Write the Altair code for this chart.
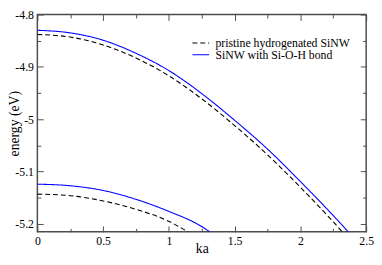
import altair as alt
import pandas as pd

# ---------------- data ----------------
SERIES = ["pristine hydrogenated SiNW", "SiNW with Si-O-H bond"]
COLORS = ["#000000", "#0000ff"]
DASHES = [[5, 3], [1, 0]]

# upper band
ka_pristine_upper = [0, 0.25, 0.5, 0.75, 1.0, 1.25, 1.5, 1.75, 2.0, 2.25, 2.35]
e_pristine_upper = [-4.838, -4.843, -4.858, -4.883, -4.917, -4.961, -5.012, -5.068, -5.130, -5.196, -5.224]
ka_sioh_upper = [0, 0.25, 0.5, 0.75, 1.0, 1.25, 1.5, 1.75, 2.0, 2.25, 2.4]
e_sioh_upper = [-4.830, -4.835, -4.849, -4.874, -4.907, -4.951, -5.002, -5.057, -5.119, -5.184, -5.225]

# lower band
ka_pristine_lower = [0, 0.25, 0.5, 0.75, 1.0, 1.15, 1.2]
e_pristine_lower = [-5.143, -5.146, -5.156, -5.172, -5.195, -5.216, -5.224]
ka_sioh_lower = [0, 0.25, 0.5, 0.75, 1.0, 1.25, 1.35]
e_sioh_lower = [-5.124, -5.127, -5.136, -5.153, -5.176, -5.205, -5.222]

X_MAJOR = [0, 0.5, 1, 1.5, 2, 2.5]
X_MINOR = [0.25, 0.75, 1.25, 1.75, 2.25]
Y_MAJOR = [-4.8, -4.9, -5.0, -5.1, -5.2]
Y_MINOR = [-4.85, -4.95, -5.05, -5.15]

rows = []
for series, band, kas, es in [
    (SERIES[0], "upper", ka_pristine_upper, e_pristine_upper),
    (SERIES[1], "upper", ka_sioh_upper, e_sioh_upper),
    (SERIES[0], "lower", ka_pristine_lower, e_pristine_lower),
    (SERIES[1], "lower", ka_sioh_lower, e_sioh_lower),
]:
    for k, e in zip(kas, es):
        rows.append({"series": series, "band": band, "ka": k, "energy": e})
df = pd.DataFrame(rows)

# ---------------- styling ----------------
FONT = "Liberation Serif"
FRAME = "#4d4d4d"
x_scale = alt.Scale(domain=[0, 2.5], nice=False, zero=False)
y_scale = alt.Scale(domain=[-5.215, -4.8], nice=False, zero=False)

label_x_axis = alt.Axis(
    orient="bottom", values=X_MAJOR, ticks=False, domain=False, grid=False,
    labelPadding=4, labelExpr="'' + datum.value", labelFont=FONT, labelFontSize=12,
    labelColor="black", labelFlush=False, labelOverlap=False,
    title="ka", titleFont=FONT, titleFontSize=14, titleFontWeight="normal",
    titleColor="black", titleY=21, titleBaseline="alphabetic",
)
label_y_axis = alt.Axis(
    orient="left", values=Y_MAJOR, ticks=False, domain=False, grid=False,
    labelPadding=4, labelExpr="'' + datum.value", labelFont=FONT, labelFontSize=12,
    labelColor="black", labelOverlap=False,
    title="energy (eV)", titleFont=FONT, titleFontSize=14, titleFontWeight="normal",
    titleColor="black", titleAngle=-90, titleX=-19, titleY=111,
    titleBaseline="alphabetic", titleAlign="center",
)


def tick_axis(orient, values, size):
    return alt.Axis(
        orient=orient, values=values, labels=False, domain=False, grid=False,
        ticks=True, tickSize=size, offset=-size, tickColor=FRAME, tickWidth=1,
        title=None,
    )


legend_kw = dict(
    title=None, orient="none", legendX=161, legendY=23, padding=0,
    labelFont=FONT, labelFontSize=12, labelColor="black", labelOffset=9,
    labelLimit=300,
    symbolType="M-1.7,0L1.7,0", symbolSize=100, symbolStrokeWidth=1.1,
    rowPadding=0,
)

lines = alt.Chart(df).mark_line(strokeWidth=1.1, interpolate="monotone", clip=True).encode(
    x=alt.X("ka:Q", scale=x_scale, axis=label_x_axis),
    y=alt.Y("energy:Q", scale=y_scale, axis=label_y_axis),
    color=alt.Color("series:N", scale=alt.Scale(domain=SERIES, range=COLORS),
                    legend=alt.Legend(**legend_kw)),
    strokeDash=alt.StrokeDash("series:N", scale=alt.Scale(domain=SERIES, range=DASHES),
                              legend=alt.Legend(**legend_kw)),
    detail="band:N",
)


def tick_layer(xo, xv, yo, yv, size):
    return alt.Chart(df).mark_point(opacity=0).encode(
        x=alt.X("ka:Q", scale=x_scale, axis=tick_axis(xo, xv, size)),
        y=alt.Y("energy:Q", scale=y_scale, axis=tick_axis(yo, yv, size)),
    )


chart = alt.layer(
    lines,
    tick_layer("bottom", X_MAJOR, "left", Y_MAJOR, 6),
    tick_layer("bottom", X_MINOR, "left", Y_MINOR, 3.5),
    tick_layer("top", X_MAJOR, "right", Y_MAJOR, 6),
    tick_layer("top", X_MINOR, "right", Y_MINOR, 3.5),
).resolve_axis(
    x="independent", y="independent"
).properties(
    width=336, height=222, autosize="none",
    padding={"left": 30, "top": 4, "right": 8, "bottom": 22},
    background="white",
).configure_view(
    stroke=FRAME, strokeWidth=1.5
)

chart.save("out.html", embed_options={"renderer": "svg", "actions": False})
